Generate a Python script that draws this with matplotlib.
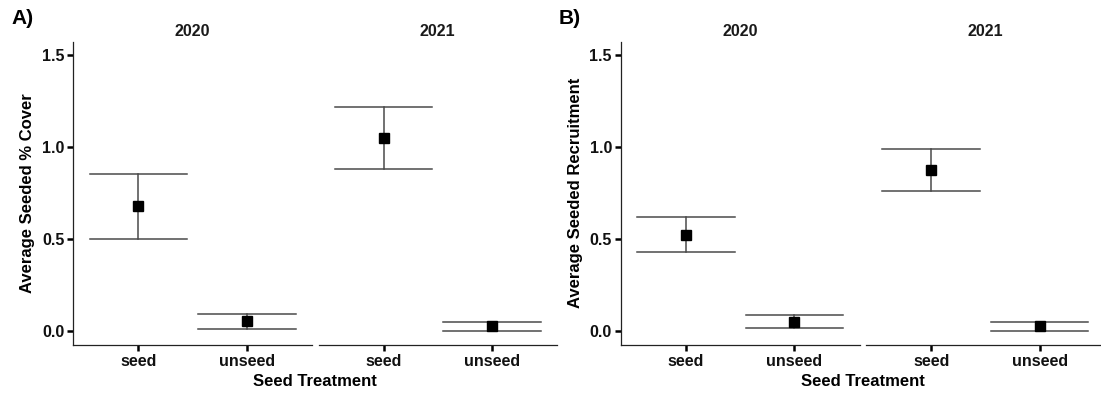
import numpy as np
import matplotlib.pyplot as plt

plt.rcParams['font.family'] = ['Liberation Sans', 'DejaVu Sans']
plt.rcParams['font.weight'] = 'bold'

years = ['2020', '2021']
treatments = ['seed', 'unseed']

# panel A: average seeded % cover (mean, lower, upper) per year
cover_mean = {'2020': [0.676, 0.051], '2021': [1.049, 0.025]}
cover_low = {'2020': [0.498, 0.011], '2021': [0.880, 0.000]}
cover_high = {'2020': [0.852, 0.091], '2021': [1.217, 0.049]}

# panel B: average seeded recruitment
recr_mean = {'2020': [0.522, 0.049], '2021': [0.873, 0.025]}
recr_low = {'2020': [0.429, 0.014], '2021': [0.759, 0.000]}
recr_high = {'2020': [0.618, 0.087], '2021': [0.987, 0.049]}

W, H = 1101, 394
fig = plt.figure(figsize=(W / 100, H / 100), dpi=100)

ylims = (-0.076, 1.572)
bar_col = '#4a4a4a'


def draw_panel(x0, mean, low, high, ylabel, tag):
    fw = 238.5
    gap = 6.7
    bottom, top = 344.7, 41.7
    for k, yr in enumerate(years):
        left = x0 + k * (fw + gap)
        ax = fig.add_axes([left / W, (H - bottom) / H, fw / W, (bottom - top) / H])
        xs = np.arange(1, len(treatments) + 1)
        for i in range(len(xs)):
            ax.plot([xs[i], xs[i]], [low[yr][i], high[yr][i]], color=bar_col, lw=1.1, zorder=1)
            for yv in (low[yr][i], high[yr][i]):
                ax.plot([xs[i] - 0.45, xs[i] + 0.45], [yv, yv], color=bar_col, lw=1.1, zorder=1)
        ax.plot(xs, mean[yr], 's', color='black', ms=7, zorder=3)
        ax.set_xlim(0.4, 2.6)
        ax.set_ylim(*ylims)
        ax.set_xticks(xs)
        ax.set_xticklabels(treatments, fontsize=11.5, fontweight='bold', color='#111111')
        ax.set_yticks([0.0, 0.5, 1.0, 1.5])
        ax.set_yticklabels(['0.0', '0.5', '1.0', '1.5'], fontsize=11.5, fontweight='bold', color='#111111')
        ax.tick_params(length=4.5, width=1.8, color='black', pad=2)
        for s in ['top', 'right']:
            ax.spines[s].set_visible(False)
        ax.spines['bottom'].set_color('#222222')
        ax.spines['bottom'].set_linewidth(0.9)
        ax.spines['left'].set_color('#222222')
        ax.spines['left'].set_linewidth(0.9)
        if k > 0:
            ax.spines['left'].set_visible(False)
            ax.tick_params(axis='y', left=False, labelleft=False)
        else:
            ax.set_ylabel(ylabel, fontsize=12, fontweight='bold', labelpad=5)
        ax.set_title(yr, fontsize=11.5, fontweight='bold', pad=4, color='#1a1a1a')
    mid = x0 + fw + gap / 2
    fig.text(mid / W, (H - 381) / H, 'Seed Treatment', ha='center', va='center',
             fontsize=12, fontweight='bold')
    fig.text((x0 - 62) / W, (H - 18) / H, tag, ha='left', va='center',
             fontsize=15, fontweight='bold')


draw_panel(73.3, cover_mean, cover_low, cover_high, 'Average Seeded % Cover', 'A)')
draw_panel(621.0, recr_mean, recr_low, recr_high, 'Average Seeded Recruitment', 'B)')

plt.savefig('out.png', dpi=100)
